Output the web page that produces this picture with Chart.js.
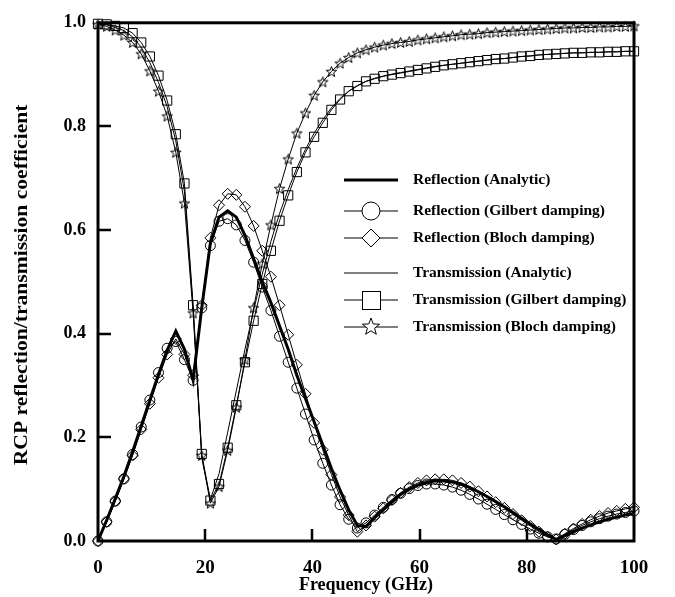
<!DOCTYPE html>
<html>
<head>
<meta charset="utf-8">
<script src="https://cdn.jsdelivr.net/npm/chart.js@4.4.1/dist/chart.umd.min.js"></script>
<style>
  html, body { margin: 0; padding: 0; background: #fff; }
  #wrap { width: 675px; height: 597px; }
</style>
</head>
<body>
<div id="wrap"><canvas id="c" width="675" height="597"></canvas></div>
<script>
'use strict';

// ── Data: frequency (GHz) and RCP coefficients ──
const freq = [
  0, 1.613, 3.226, 4.839, 6.452, 8.065, 9.677, 11.29, 12.903, 14.516,
  16.129, 17.742, 19.355, 20.968, 22.581, 24.194, 25.806, 27.419, 29.032, 30.645,
  32.258, 33.871, 35.484, 37.097, 38.71, 40.323, 41.935, 43.548, 45.161, 46.774,
  48.387, 50, 51.613, 53.226, 54.839, 56.452, 58.065, 59.677, 61.29, 62.903,
  64.516, 66.129, 67.742, 69.355, 70.968, 72.581, 74.194, 75.806, 77.419, 79.032,
  80.645, 82.258, 83.871, 85.484, 87.097, 88.71, 90.323, 91.935, 93.548, 95.161,
  96.774, 98.387, 100
];

const reflAnalytic = [
  0, 0.04, 0.082, 0.125, 0.172, 0.222, 0.272, 0.322, 0.368, 0.405,
  0.37, 0.31, 0.45, 0.575, 0.625, 0.637, 0.625, 0.59, 0.545, 0.5,
  0.46, 0.415, 0.37, 0.32, 0.275, 0.23, 0.185, 0.14, 0.098, 0.06,
  0.03, 0.028, 0.045, 0.06, 0.075, 0.09, 0.1, 0.108, 0.113, 0.116,
  0.116, 0.114, 0.11, 0.103, 0.095, 0.086, 0.076, 0.066, 0.055, 0.044,
  0.033, 0.022, 0.012, 0.003, 0.01, 0.018, 0.025, 0.031, 0.037, 0.042,
  0.046, 0.05, 0.053
];

const reflGilbert = [
  0, 0.037, 0.077, 0.12, 0.167, 0.22, 0.272, 0.325, 0.372, 0.385,
  0.35, 0.31, 0.45, 0.57, 0.617, 0.622, 0.61, 0.58, 0.538, 0.49,
  0.445, 0.395, 0.345, 0.295, 0.245, 0.195, 0.15, 0.108, 0.07, 0.042,
  0.025, 0.035, 0.05, 0.065, 0.08, 0.092, 0.101, 0.107, 0.11, 0.11,
  0.108, 0.104, 0.098, 0.09, 0.081, 0.071, 0.061, 0.051, 0.041, 0.032,
  0.023, 0.015, 0.008, 0.004, 0.013, 0.022, 0.03, 0.037, 0.043, 0.048,
  0.052, 0.055, 0.058
];

const reflBloch = [
  0, 0.037, 0.077, 0.12, 0.165, 0.215, 0.265, 0.315, 0.36, 0.39,
  0.36, 0.32, 0.455, 0.585, 0.648, 0.67, 0.668, 0.645, 0.608, 0.56,
  0.51, 0.455, 0.398, 0.34, 0.284, 0.228, 0.176, 0.128, 0.085, 0.05,
  0.018, 0.03, 0.047, 0.063, 0.079, 0.093, 0.104, 0.112, 0.117, 0.119,
  0.119, 0.117, 0.112, 0.105, 0.096, 0.086, 0.075, 0.064, 0.052, 0.04,
  0.029, 0.018, 0.008, 0.003, 0.014, 0.024, 0.033, 0.041, 0.048, 0.054,
  0.058, 0.062, 0.065
];

const transAnalytic = [
  0.998, 0.996, 0.991, 0.985, 0.973, 0.953, 0.923, 0.885, 0.838, 0.772,
  0.675, 0.45, 0.16, 0.08, 0.13, 0.21, 0.29, 0.37, 0.445, 0.515,
  0.578, 0.632, 0.678, 0.72, 0.756, 0.787, 0.813, 0.836, 0.854, 0.868,
  0.879, 0.887, 0.893, 0.897, 0.901, 0.904, 0.907, 0.91, 0.913, 0.916,
  0.918, 0.92, 0.922, 0.924, 0.926, 0.928, 0.93, 0.931, 0.933, 0.935,
  0.936, 0.938, 0.939, 0.94, 0.941, 0.942, 0.942, 0.943, 0.943, 0.944,
  0.944, 0.945, 0.945
];

const transGilbert = [
  0.998, 0.997, 0.994, 0.99, 0.98, 0.962, 0.935, 0.898, 0.85, 0.785,
  0.69, 0.455, 0.168, 0.078, 0.11, 0.18, 0.262, 0.345, 0.425, 0.496,
  0.56, 0.618, 0.667, 0.712, 0.75, 0.78, 0.807, 0.832, 0.852, 0.868,
  0.878, 0.887, 0.892, 0.897, 0.9, 0.903, 0.906, 0.909, 0.912, 0.915,
  0.918, 0.92, 0.922, 0.924, 0.926, 0.928, 0.93, 0.931, 0.933, 0.935,
  0.936, 0.938, 0.939, 0.94, 0.941, 0.942, 0.942, 0.943, 0.943, 0.944,
  0.944, 0.945, 0.945
];

const transBloch = [
  0.997, 0.993, 0.986, 0.976, 0.962, 0.94, 0.907, 0.868, 0.82, 0.75,
  0.652, 0.44, 0.165, 0.073, 0.105, 0.175, 0.258, 0.35, 0.45, 0.535,
  0.61, 0.68, 0.737, 0.787, 0.826, 0.86, 0.886, 0.906, 0.922, 0.933,
  0.942, 0.948, 0.953, 0.957, 0.96, 0.962, 0.964, 0.967, 0.969, 0.971,
  0.973, 0.975, 0.977, 0.978, 0.979, 0.981, 0.982, 0.983, 0.984, 0.985,
  0.986, 0.987, 0.988, 0.989, 0.99, 0.99, 0.991, 0.991, 0.992, 0.992,
  0.993, 0.993, 0.994
];

const seriesLabels = [
  'Reflection (Analytic)', 'Reflection (Gilbert damping)', 'Reflection (Bloch damping)',
  'Transmission (Analytic)', 'Transmission (Gilbert damping)', 'Transmission (Bloch damping)'
];

const yTitle = 'RCP reflection/transmission coefficient';
const xTitle = 'Frequency (GHz)';

// ── Styling helpers ──────────────────────────────────────────────
const SERIF = "'Liberation Serif', 'Times New Roman', serif";
const INK = '#000';

function starPath(g, cx, cy, R) {
  const r = R * 0.42;
  g.beginPath();
  for (let k = 0; k < 10; k++) {
    const a = -Math.PI / 2 + k * Math.PI / 5;
    const d = k % 2 ? r : R;
    g.lineTo(cx + d * Math.cos(a), cy + d * Math.sin(a));
  }
  g.closePath();
}

function makeStar(R) {
  const c = document.createElement('canvas');
  const s = Math.ceil(R * 2 + 4);
  c.width = c.height = s;
  const g = c.getContext('2d');
  starPath(g, s / 2, s / 2 + 0.5, R);
  g.lineWidth = 1;
  g.strokeStyle = INK;
  g.stroke();
  return c;
}

const starSmall = makeStar(5.5);

const pts = arr => freq.map((x, i) => ({ x, y: arr[i] }));

function series(label, arr, extra) {
  return Object.assign({
    label,
    data: pts(arr),
    borderColor: INK,
    borderWidth: 1,
    tension: 0,
    pointRadius: 0,
    pointBorderColor: INK,
    pointBorderWidth: 1,
    pointBackgroundColor: 'rgba(0,0,0,0)',
    clip: false
  }, extra);
}

// ── Plugins: boxed frame with inward ticks, y title, inline legend ──
const framePlugin = {
  id: 'frame',
  afterDraw(chart) {
    const { ctx, chartArea: a, scales: { x, y } } = chart;
    ctx.save();
    ctx.strokeStyle = INK;
    ctx.lineWidth = 2.5;
    ctx.beginPath();
    x.ticks.forEach(t => {
      if (t.value <= x.min || t.value >= x.max) return;
      const px = Math.round(x.getPixelForValue(t.value));
      ctx.moveTo(px, a.bottom);
      ctx.lineTo(px, a.bottom - 12);
    });
    y.ticks.forEach(t => {
      if (t.value <= y.min || t.value >= y.max) return;
      const py = Math.round(y.getPixelForValue(t.value));
      ctx.moveTo(a.left, py);
      ctx.lineTo(a.left + 13, py);
    });
    ctx.stroke();
    ctx.lineWidth = 3;
    ctx.strokeRect(a.left, a.top, a.right - a.left, a.bottom - a.top);

    // y title: the original figure stretches it along its length
    ctx.translate(27, (a.top + a.bottom) / 2 + 3);
    ctx.rotate(-Math.PI / 2);
    ctx.scale(1.2, 1);
    ctx.fillStyle = INK;
    ctx.font = 'bold 18px ' + SERIF;
    ctx.textAlign = 'center';
    ctx.textBaseline = 'alphabetic';
    ctx.fillText(yTitle, 0, 0);
    ctx.restore();
  }
};

const legendRows = [180, 211, 238, 273, 300, 327];

const legendPlugin = {
  id: 'inlineLegend',
  afterDraw(chart) {
    const { ctx } = chart;
    const x0 = 344, x1 = 398, xm = 371, xt = 413;
    ctx.save();
    chart.data.datasets.forEach((ds, i) => {
      const yy = legendRows[i];
      ctx.strokeStyle = INK;
      ctx.lineWidth = ds.borderWidth;
      ctx.beginPath();
      ctx.moveTo(x0, yy);
      ctx.lineTo(x1, yy);
      ctx.stroke();

      ctx.lineWidth = 1;
      ctx.fillStyle = '#fff';
      const r = 9;
      const st = ds.pointStyle;
      if (st === 'circle') {
        ctx.beginPath();
        ctx.arc(xm, yy, r, 0, Math.PI * 2);
        ctx.fill(); ctx.stroke();
      } else if (st === 'rectRot') {
        ctx.beginPath();
        ctx.moveTo(xm, yy - r); ctx.lineTo(xm + r, yy);
        ctx.lineTo(xm, yy + r); ctx.lineTo(xm - r, yy);
        ctx.closePath();
        ctx.fill(); ctx.stroke();
      } else if (st === 'rect') {
        ctx.fillRect(xm - r, yy - r, 2 * r, 2 * r);
        ctx.strokeRect(xm - r + 0.5, yy - r + 0.5, 2 * r, 2 * r);
      } else if (st === starSmall) {
        starPath(ctx, xm, yy, 9);
        ctx.fill(); ctx.stroke();
      }

      ctx.fillStyle = INK;
      ctx.font = 'bold 15.5px ' + SERIF;
      ctx.textAlign = 'left';
      ctx.textBaseline = 'middle';
      ctx.fillText(ds.label, xt, yy);
    });
    ctx.restore();
  }
};

// ── Chart ─────────────────────────────────────────────────────────
const ctx = document.getElementById('c');

new Chart(ctx, {
  type: 'line',
  data: {
    datasets: [
      series(seriesLabels[0], reflAnalytic, { borderWidth: 3 }),
      series(seriesLabels[1], reflGilbert, { pointStyle: 'circle', pointRadius: 5 }),
      series(seriesLabels[2], reflBloch, { pointStyle: 'rectRot', pointRadius: 5.5 }),
      series(seriesLabels[3], transAnalytic, {}),
      series(seriesLabels[4], transGilbert, { pointStyle: 'rect', pointRadius: 6.5 }),
      series(seriesLabels[5], transBloch, { pointStyle: starSmall, pointRadius: 6 })
    ]
  },
  options: {
    responsive: false,
    animation: false,
    events: [],
    layout: { padding: { left: 0, top: 15, right: 41, bottom: 0 } },
    plugins: {
      legend: { display: false },
      tooltip: { enabled: false }
    },
    scales: {
      x: {
        type: 'linear',
        min: 0, max: 100,
        grid: { display: false, drawTicks: false },
        border: { display: false },
        ticks: {
          stepSize: 20,
          color: INK,
          padding: 16,
          font: { family: SERIF, size: 19, weight: 'bold' }
        },
        title: {
          display: true,
          text: xTitle,
          color: INK,
          font: { family: SERIF, size: 18, weight: 'bold' },
          padding: { top: 0, bottom: 1 }
        },
        afterFit: s => { s.height = 56; }
      },
      y: {
        min: 0, max: 1,
        grid: { display: false, drawTicks: false },
        border: { display: false },
        ticks: {
          stepSize: 0.2,
          color: INK,
          padding: 12,
          font: { family: SERIF, size: 18, weight: 'bold' },
          callback: v => v.toFixed(1)
        },
        title: { display: false },
        afterFit: s => { s.width = 98; }
      }
    }
  },
  plugins: [framePlugin, legendPlugin]
});
</script>
</body>
</html>
